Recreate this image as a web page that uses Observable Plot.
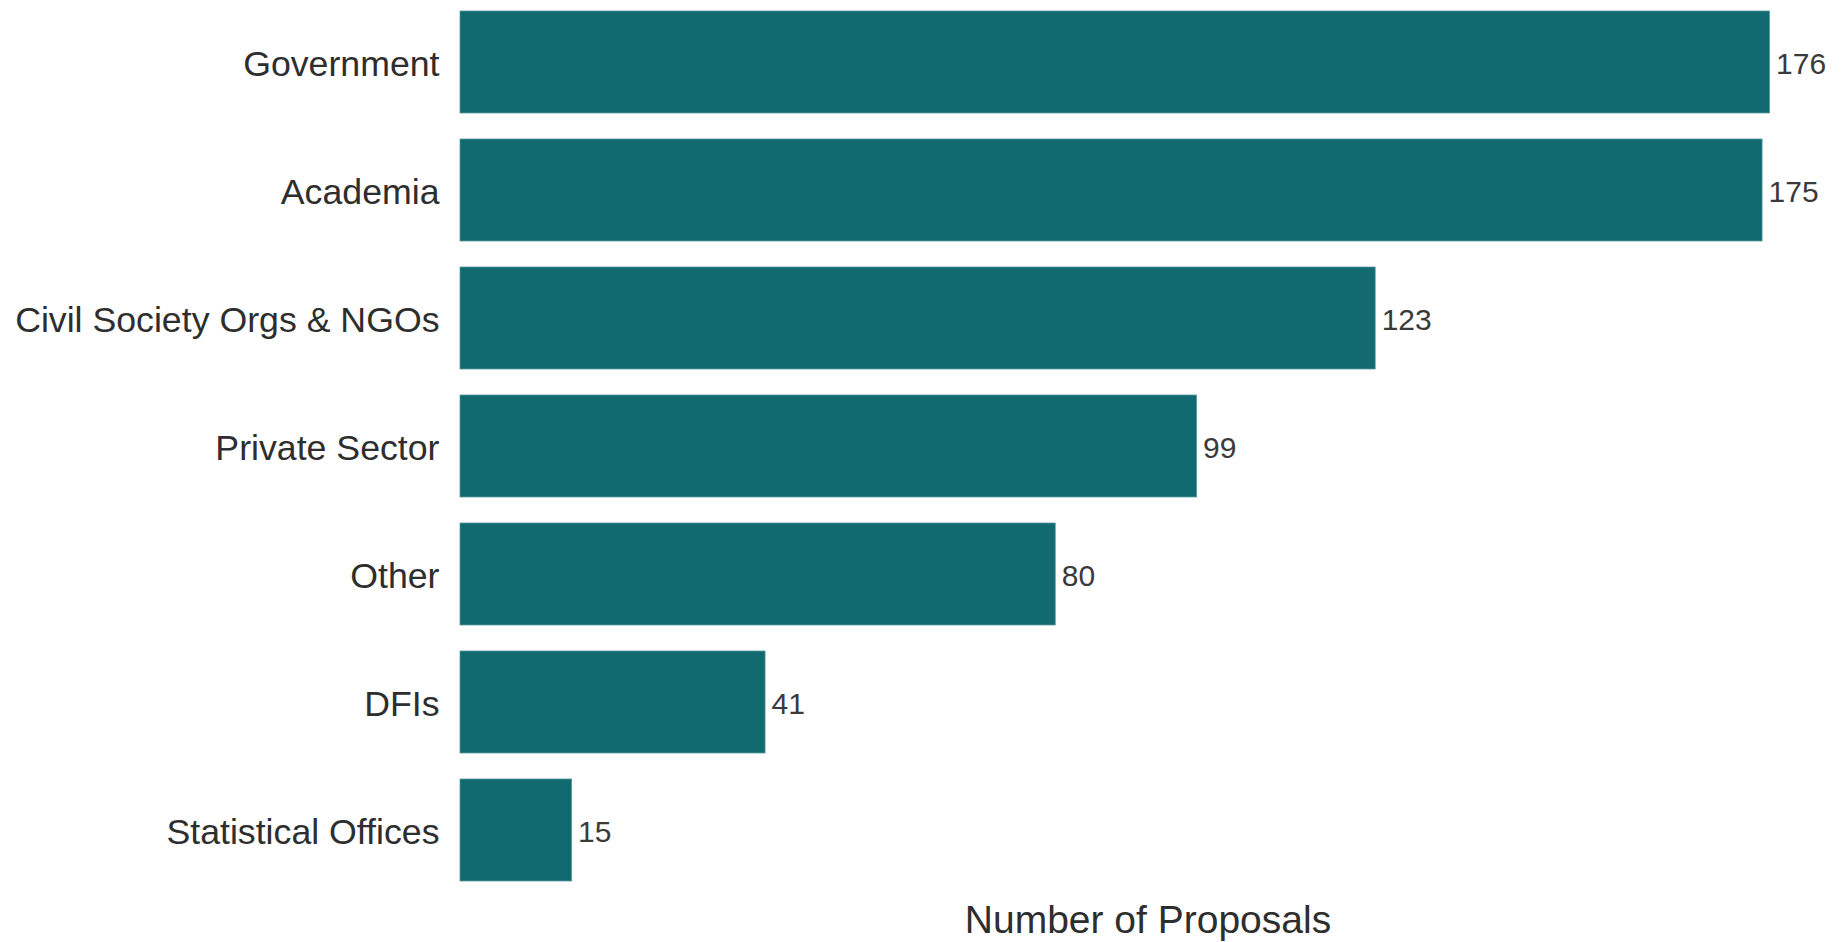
<!DOCTYPE html>
<html>
<head>
<meta charset="utf-8">
<script src="https://cdn.jsdelivr.net/npm/d3@7"></script>
<script src="https://cdn.jsdelivr.net/npm/@observablehq/plot@0.6"></script>
<style>
  html, body { margin: 0; padding: 0; background: #fff; }
  #chart svg { display: block; }
</style>
</head>
<body>
<div id="chart"></div>
<script>
const categories = ["Government", "Academia", "Civil Society Orgs & NGOs", "Private Sector", "Other", "DFIs", "Statistical Offices"];
const counts = [176, 175, 123, 99, 80, 41, 15];
const xLabel = "Number of Proposals";

const data = categories.map((c, i) => ({category: c, count: counts[i]}));

const chart = Plot.plot({
  width: 1845,
  height: 942,
  marginLeft: 460,
  marginRight: 10,
  marginTop: 0,
  marginBottom: 49,
  style: {fontFamily: "'Liberation Sans', Arial, sans-serif", background: "#fff"},
  x: {domain: [0, 184.8], range: [460, 1835], axis: null},
  y: {domain: categories, range: [-2, 894], paddingInner: 0.2, paddingOuter: 0.1, axis: null},
  marks: [
    Plot.barX(data, {x: "count", y: "category", fill: "#126a71", stroke: "#5a9aa0", strokeWidth: 0.8}),
    Plot.text(data, {x: "count", y: "category", text: d => String(d.count), textAnchor: "start", dx: 6, dy: 2, fontSize: 30, fill: "#3a3a3a"}),
    Plot.axisY({tickSize: 0, tickPadding: 21, dy: 2, fontSize: 35.7, fill: "#2e2e2e", label: null}),
    Plot.text([xLabel], {frameAnchor: "bottom", dy: 27, fontSize: 39, fill: "#2e2e2e", lineAnchor: "middle"})
  ]
});
document.getElementById("chart").appendChild(chart);
</script>
</body>
</html>
